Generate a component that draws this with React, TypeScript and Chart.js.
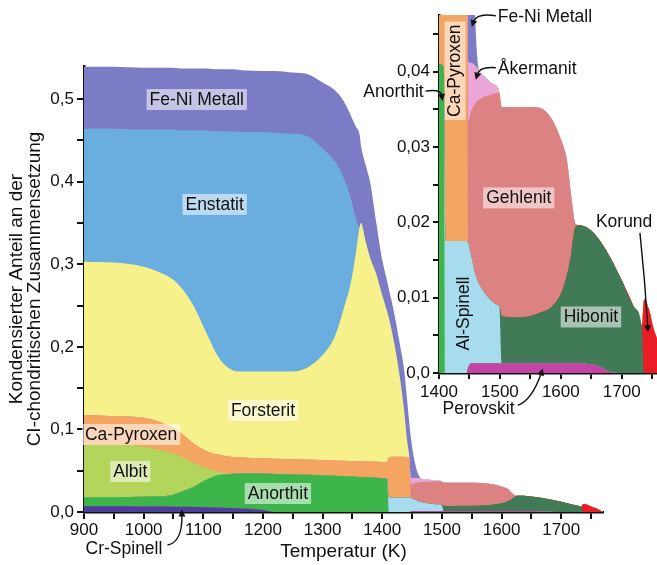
import React, { useEffect, useRef } from 'react';
import { Chart, registerables } from 'chart.js';

Chart.register(...registerables);

const FONT = '"Liberation Sans", Arial, Helvetica, sans-serif';

// Temperature grid (K)
const temperature = [
  900, 950, 1000, 1030, 1050, 1065, 1085, 1105, 1125, 1145,
  1165, 1200, 1220, 1250, 1275, 1300, 1320, 1335, 1348, 1356,
  1362, 1364, 1373, 1380, 1390, 1400, 1408, 1411, 1418, 1429,
  1437, 1441, 1445, 1448, 1453, 1460, 1466, 1475, 1485, 1497,
  1499, 1503, 1520, 1545, 1565, 1585, 1600, 1610, 1617, 1624,
  1630, 1645, 1660, 1680, 1700, 1720, 1733, 1737, 1745, 1752,
  1760, 1770,
];

// Condensed fraction of each phase (stacked, bottom to top)
const crSpinell = [
  0.007, 0.007, 0.0068, 0.0066, 0.0065, 0.0063, 0.006, 0.0057, 0.0053, 0.0048,
  0.0042, 0.0025, 0, 0, 0, 0, 0, 0, 0, 0,
  0, 0, 0, 0, 0, 0, 0, 0, 0, 0,
  0, 0, 0, 0, 0, 0, 0, 0, 0, 0,
  0, 0, 0, 0, 0, 0, 0, 0, 0, 0,
  0, 0, 0, 0, 0, 0, 0, 0, 0, 0,
  0, 0,
];
const perovskit = [
  0, 0, 0, 0, 0, 0, 0, 0, 0, 0,
  0, 0, 0, 0, 0, 0, 0, 0, 0, 0,
  0, 0, 0, 0, 0, 0, 0, 0, 0, 0,
  0, 0, 0, 0.0008, 0.0013, 0.0013, 0.0013, 0.0013, 0.0013, 0.0013,
  0.0013, 0.0013, 0.0013, 0.0013, 0.0013, 0.0013, 0.0013, 0.0013, 0.0013, 0.0013,
  0.0013, 0.0012, 0.001, 0.0002, 0, 0, 0, 0, 0, 0,
  0, 0,
];
const anorthit = [
  0.011, 0.011, 0.0117, 0.0124, 0.0145, 0.0187, 0.025, 0.0333, 0.0392, 0.0412,
  0.0423, 0.044, 0.046, 0.0455, 0.045, 0.0445, 0.044, 0.0435, 0.043, 0.0428,
  0.0425, 0.0425, 0.0423, 0.042, 0.0415, 0.041, 0.0405, 0, 0, 0,
  0, 0, 0, 0, 0, 0, 0, 0, 0, 0,
  0, 0, 0, 0, 0, 0, 0, 0, 0, 0,
  0, 0, 0, 0, 0, 0, 0, 0, 0, 0,
  0, 0,
];
const alSpinell = [
  0, 0, 0, 0, 0, 0, 0, 0, 0, 0,
  0, 0, 0, 0, 0, 0, 0, 0, 0, 0,
  0, 0, 0, 0, 0, 0, 0, 0.0175, 0.0175, 0.0175,
  0.0175, 0.0175, 0.0175, 0.0164, 0.0142, 0.0117, 0.0105, 0.0093, 0.0084, 0.0077,
  0.0077, 0, 0, 0, 0, 0, 0, 0, 0, 0,
  0, 0, 0, 0, 0, 0, 0, 0, 0, 0,
  0, 0,
];
const hibonit = [
  0, 0, 0, 0, 0, 0, 0, 0, 0, 0,
  0, 0, 0, 0, 0, 0, 0, 0, 0, 0,
  0, 0, 0, 0, 0, 0, 0, 0, 0, 0,
  0, 0, 0, 0, 0, 0, 0, 0, 0, 0,
  0, 0.0063, 0.0061, 0.0062, 0.0067, 0.0075, 0.0092, 0.0117, 0.0145, 0.0181,
  0.0183, 0.018, 0.017, 0.0153, 0.0123, 0.0088, 0.0063, 0, 0, 0,
  0, 0,
];
const korund = [
  0, 0, 0, 0, 0, 0, 0, 0, 0, 0,
  0, 0, 0, 0, 0, 0, 0, 0, 0, 0,
  0, 0, 0, 0, 0, 0, 0, 0, 0, 0,
  0, 0, 0, 0, 0, 0, 0, 0, 0, 0,
  0, 0, 0, 0, 0, 0, 0, 0, 0, 0,
  0, 0, 0, 0, 0, 0, 0, 0.0098, 0.0084, 0.006,
  0.004, 0,
];
const albit = [
  0.063, 0.063, 0.0605, 0.0555, 0.05, 0.041, 0.028, 0.014, 0.0045, 0,
  0, 0, 0, 0, 0, 0, 0, 0, 0, 0,
  0, 0, 0, 0, 0, 0, 0, 0, 0, 0,
  0, 0, 0, 0, 0, 0, 0, 0, 0, 0,
  0, 0, 0, 0, 0, 0, 0, 0, 0, 0,
  0, 0, 0, 0, 0, 0, 0, 0, 0, 0,
  0, 0,
];
const caPyroxen = [
  0.036, 0.035, 0.035, 0.0335, 0.03, 0.028, 0.023, 0.021, 0.0205, 0.021,
  0.0195, 0.0185, 0.0185, 0.0185, 0.0185, 0.0185, 0.0185, 0.0185, 0.0187, 0.0187,
  0.0188, 0.0187, 0.0188, 0.019, 0.0193, 0.0196, 0.02, 0.0485, 0.0495, 0.0495,
  0.0495, 0.049, 0.0485, 0, 0, 0, 0, 0, 0, 0,
  0, 0, 0, 0, 0, 0, 0, 0, 0, 0,
  0, 0, 0, 0, 0, 0, 0, 0, 0, 0,
  0, 0,
];
const gehlenit = [
  0, 0, 0, 0, 0, 0, 0, 0, 0, 0,
  0, 0, 0, 0, 0, 0, 0, 0, 0, 0,
  0, 0, 0, 0, 0, 0, 0, 0, 0, 0,
  0, 0, 0, 0.0163, 0.0193, 0.0228, 0.0245, 0.0261, 0.0272, 0.0282,
  0.0282, 0.0277, 0.0279, 0.0278, 0.0272, 0.0249, 0.0205, 0.0152, 0.0077, 0.0004,
  0, 0, 0, 0, 0, 0, 0, 0, 0, 0,
  0, 0,
];
const akermanit = [
  0, 0, 0, 0, 0, 0, 0, 0, 0, 0,
  0, 0, 0, 0, 0, 0, 0, 0, 0, 0,
  0, 0, 0, 0, 0, 0, 0, 0, 0, 0,
  0, 0, 0, 0.0078, 0.0063, 0.0049, 0.0038, 0.0026, 0.0016, 0.0006,
  0, 0, 0, 0, 0, 0, 0, 0, 0, 0,
  0, 0, 0, 0, 0, 0, 0, 0, 0, 0,
  0, 0,
];
const forsterit = [
  0.186, 0.186, 0.183, 0.181, 0.18, 0.176, 0.166, 0.143, 0.1185, 0.106,
  0.104, 0.105, 0.1055, 0.106, 0.1115, 0.127, 0.1495, 0.183, 0.2183, 0.2535,
  0.2837, 0.2888, 0.2639, 0.246, 0.2272, 0.2014, 0.1825, 0.169, 0.145, 0.098,
  0.053, 0.0235, 0.002, 0, 0, 0, 0, 0, 0, 0,
  0, 0, 0, 0, 0, 0, 0, 0, 0, 0,
  0, 0, 0, 0, 0, 0, 0, 0, 0, 0,
  0, 0,
];
const enstatit = [
  0.161, 0.162, 0.166, 0.174, 0.182, 0.192, 0.214, 0.245, 0.273, 0.288,
  0.29, 0.29, 0.289, 0.288, 0.28, 0.25, 0.213, 0.16, 0.098, 0.04,
  0, 0, 0, 0, 0, 0, 0, 0, 0, 0,
  0, 0, 0, 0, 0, 0, 0, 0, 0, 0,
  0, 0, 0, 0, 0, 0, 0, 0, 0, 0,
  0, 0, 0, 0, 0, 0, 0, 0, 0, 0,
  0, 0,
];
const feNiMetall = [
  0.075, 0.075, 0.075, 0.075, 0.075, 0.075, 0.075, 0.075, 0.075, 0.075,
  0.075, 0.074, 0.075, 0.074, 0.075, 0.08, 0.086, 0.093, 0.101, 0.111,
  0.112, 0.095, 0.093, 0.091, 0.062, 0.043, 0.037, 0.035, 0.036, 0.04,
  0.05, 0.05, 0.042, 0.0487, 0.0249, 0.0053, 0, 0, 0, 0,
  0, 0, 0, 0, 0, 0, 0, 0, 0, 0,
  0, 0, 0, 0, 0, 0, 0, 0, 0, 0,
  0, 0,
];

const phases: { name: string; values: number[]; color: string }[] = [
  { name: 'Cr-Spinell', values: crSpinell, color: '#4d3e9c' },
  { name: 'Perovskit', values: perovskit, color: '#c444a6' },
  { name: 'Anorthit', values: anorthit, color: '#3db54a' },
  { name: 'Al-Spinell', values: alSpinell, color: '#a7dbee' },
  { name: 'Hibonit', values: hibonit, color: '#417a56' },
  { name: 'Korund', values: korund, color: '#ec1c24' },
  { name: 'Albit', values: albit, color: '#b3d55c' },
  { name: 'Ca-Pyroxen', values: caPyroxen, color: '#f5a562' },
  { name: 'Gehlenit', values: gehlenit, color: '#dc8282' },
  { name: 'Åkermanit', values: akermanit, color: '#eaa6d6' },
  { name: 'Forsterit', values: forsterit, color: '#f7f18c' },
  { name: 'Enstatit', values: enstatit, color: '#6aaee0' },
  { name: 'Fe-Ni Metall', values: feNiMetall, color: '#7c7cc6' },
];

type Label = { text: string; t: number; v: number; align?: 'left' | 'center' | 'right'; rot?: boolean; box?: boolean };
type Arrow = { from: [number, number]; ctrl: [number, number]; to: [number, number] };

const mainLabels: Label[] = [
  { text: 'Fe-Ni Metall', t: 1089, v: 0.5, box: true },
  { text: 'Enstatit', t: 1119, v: 0.373, box: true },
  { text: 'Forsterit', t: 1200, v: 0.1236, box: true },
  { text: 'Ca-Pyroxen', t: 979, v: 0.0945, box: true },
  { text: 'Albit', t: 977.5, v: 0.0497, box: true },
  { text: 'Anorthit', t: 1225, v: 0.023, box: true },
  { text: 'Cr-Spinell', t: 967, v: -0.0436 },
];
const mainArrows: Arrow[] = [
  { from: [1040, -0.04], ctrl: [1065, -0.0364], to: [1064, 0.003] },
];

const insetLabels: Label[] = [
  { text: 'Ca-Pyroxen', t: 1425.6, v: 0.0401, rot: true, box: true },
  { text: 'Fe-Ni Metall', t: 1496.5, v: 0.0474, align: 'left' },
  { text: 'Åkermanit', t: 1496.5, v: 0.0405, align: 'left' },
  { text: 'Anorthit', t: 1374.8, v: 0.0374, align: 'right' },
  { text: 'Gehlenit', t: 1531, v: 0.0233, box: true },
  { text: 'Korund', t: 1704, v: 0.0201 },
  { text: 'Al-Spinell', t: 1439, v: 0.0079, rot: true },
  { text: 'Hibonit', t: 1649.5, v: 0.0075, box: true },
  { text: 'Perovskit', t: 1465, v: -0.0047 },
];
const insetArrows: Arrow[] = [
  { from: [1493.3, 0.0474], ctrl: [1461.7, 0.0478], to: [1453.8, 0.0459] },
  { from: [1493.3, 0.0405], ctrl: [1466.9, 0.0407], to: [1460.4, 0.0389] },
  { from: [1378, 0.0374], ctrl: [1402.8, 0.0377], to: [1406, 0.0361] },
  { from: [1730, 0.0186], ctrl: [1738.3, 0.0123], to: [1743.3, 0.0054] },
  { from: [1529.4, -0.0043], ctrl: [1552.5, -0.0036], to: [1570.6, 0.0006] },
];

function annotationPlugin(labels: Label[], arrows: Arrow[]) {
  return {
    id: 'phaseLabels',
    afterDraw(chart: any) {
      const { ctx } = chart;
      const xs = chart.scales.x;
      const ys = chart.scales.y;
      ctx.save();
      ctx.font = `17.5px ${FONT}`;
      ctx.textBaseline = 'middle';
      ctx.textAlign = 'left';
      for (const l of labels) {
        const px = xs.getPixelForValue(l.t);
        const py = ys.getPixelForValue(l.v);
        ctx.save();
        ctx.translate(px, py);
        if (l.rot) ctx.rotate(-Math.PI / 2);
        const w = ctx.measureText(l.text).width;
        const align = l.align || 'center';
        const x0 = align === 'center' ? -w / 2 : align === 'right' ? -w : 0;
        if (l.box) {
          ctx.fillStyle = 'rgba(255,255,255,0.55)';
          ctx.fillRect(x0 - 3, -10, w + 6, 21);
        }
        ctx.fillStyle = '#111';
        ctx.fillText(l.text, x0, 1);
        ctx.restore();
      }
      ctx.strokeStyle = '#111';
      ctx.fillStyle = '#111';
      ctx.lineWidth = 1.4;
      for (const a of arrows) {
        const [x0, y0] = [xs.getPixelForValue(a.from[0]), ys.getPixelForValue(a.from[1])];
        const [cx, cy] = [xs.getPixelForValue(a.ctrl[0]), ys.getPixelForValue(a.ctrl[1])];
        const [x1, y1] = [xs.getPixelForValue(a.to[0]), ys.getPixelForValue(a.to[1])];
        const ang = Math.atan2(y1 - cy, x1 - cx);
        const hl = 7;
        const bx = x1 - Math.cos(ang) * hl * 0.8;
        const by = y1 - Math.sin(ang) * hl * 0.8;
        ctx.beginPath();
        ctx.moveTo(x0, y0);
        ctx.quadraticCurveTo(cx, cy, bx, by);
        ctx.stroke();
        ctx.beginPath();
        ctx.moveTo(x1, y1);
        ctx.lineTo(x1 - Math.cos(ang) * hl + Math.sin(ang) * 3.5, y1 - Math.sin(ang) * hl - Math.cos(ang) * 3.5);
        ctx.lineTo(x1 - Math.cos(ang) * hl - Math.sin(ang) * 3.5, y1 - Math.sin(ang) * hl + Math.cos(ang) * 3.5);
        ctx.closePath();
        ctx.fill();
      }
      ctx.restore();
    },
  };
}

function buildDatasets() {
  return phases.map((p) => ({
    label: p.name,
    data: temperature.map((t, i) => ({ x: t, y: p.values[i] })),
    backgroundColor: p.color,
    borderColor: 'transparent',
    borderWidth: 0,
    pointRadius: 0,
    fill: 'origin',
    stack: 'phases',
    cubicInterpolationMode: 'monotone' as const,
  }));
}

const axisFont = { family: FONT, size: 17 };

export default function App() {
  const mainRef = useRef<HTMLCanvasElement>(null);
  const insetRef = useRef<HTMLCanvasElement>(null);

  useEffect(() => {
    const main = new Chart(mainRef.current as HTMLCanvasElement, {
      type: 'line',
      data: { datasets: buildDatasets() as any },
      options: {
        responsive: false,
        animation: false,
        devicePixelRatio: 1,
        layout: { padding: { top: 66, right: 54, left: 0, bottom: 0 } },
        plugins: { legend: { display: false }, tooltip: { enabled: false } },
        scales: {
          x: {
            type: 'linear',
            min: 900,
            max: 1770,
            afterFit: (s: any) => { s.height = 53; },
            border: { display: true, color: '#111', width: 2.5 },
            grid: { drawOnChartArea: false, drawTicks: true, tickLength: 7, color: '#111', lineWidth: 2 },
            ticks: {
              stepSize: 50,
              includeBounds: false,
              autoSkip: false,
              maxRotation: 0,
              padding: 1,
              color: '#111',
              font: axisFont,
              callback: (v: any) => (Number(v) % 100 === 0 ? String(v) : ''),
            },
            title: {
              display: true,
              text: 'Temperatur (K)',
              color: '#111',
              font: { family: FONT, size: 19, lineHeight: 1.2 },
              padding: { top: 0, bottom: 2 },
            },
          },
          y: {
            type: 'linear',
            stacked: true,
            min: 0,
            max: 0.54,
            afterFit: (s: any) => { s.width = 84; },
            border: { display: true, color: '#111', width: 2.5 },
            grid: { drawOnChartArea: false, drawTicks: true, tickLength: 7, color: '#111', lineWidth: 2 },
            ticks: {
              stepSize: 0.05,
              includeBounds: false,
              autoSkip: false,
              padding: 3,
              color: '#111',
              font: axisFont,
              callback: (v: any) => {
                const n = Math.round(Number(v) * 100);
                return n % 10 === 0 ? (n / 100).toFixed(1).replace('.', ',') : '';
              },
            },
            title: {
              display: true,
              text: ['Kondensierter Anteil an der', 'CI-chondritischen Zusammensetzung'],
              color: '#111',
              font: { family: FONT, size: 19, lineHeight: 0.95 },
              padding: { top: 8, bottom: 0 },
            },
          },
        },
      },
      plugins: [annotationPlugin(mainLabels, mainArrows)],
    } as any);

    const inset = new Chart(insetRef.current as HTMLCanvasElement, {
      type: 'line',
      data: { datasets: buildDatasets() as any },
      options: {
        responsive: false,
        animation: false,
        devicePixelRatio: 1,
        layout: { padding: { top: 15, right: 0, left: 0, bottom: 0 } },
        plugins: { legend: { display: false }, tooltip: { enabled: false } },
        scales: {
          x: {
            type: 'linear',
            min: 1400,
            max: 1758,
            afterFit: (s: any) => { s.height = 47; },
            border: { display: true, color: '#111', width: 2.5 },
            grid: { drawOnChartArea: false, drawTicks: true, tickLength: 6, color: '#111', lineWidth: 2 },
            ticks: {
              stepSize: 50,
              includeBounds: false,
              autoSkip: false,
              maxRotation: 0,
              padding: 3,
              color: '#111',
              font: axisFont,
              callback: (v: any) => (Number(v) % 100 === 0 ? String(v) : ''),
            },
          },
          y: {
            type: 'linear',
            stacked: true,
            min: 0,
            max: 0.0475,
            afterFit: (s: any) => { s.width = 99; },
            border: { display: true, color: '#111', width: 2.5 },
            grid: { drawOnChartArea: false, drawTicks: true, tickLength: 6, color: '#111', lineWidth: 2 },
            ticks: {
              stepSize: 0.005,
              includeBounds: false,
              autoSkip: false,
              padding: 3,
              color: '#111',
              font: axisFont,
              callback: (v: any) => {
                const n = Math.round(Number(v) * 1000);
                if (n % 10 !== 0) return '';
                return n === 0 ? '0,0' : (n / 1000).toFixed(2).replace('.', ',');
              },
            },
          },
        },
      },
      plugins: [annotationPlugin(insetLabels, insetArrows)],
    } as any);

    return () => {
      main.destroy();
      inset.destroy();
    };
  }, []);

  return (
    <div style={{ position: 'absolute', left: 0, top: 0, width: 657, height: 565, background: '#fff', overflow: 'hidden' }}>
      <canvas ref={mainRef} width={657} height={565} style={{ position: 'absolute', left: 0, top: 0 }} />
      <canvas ref={insetRef} width={317} height={420} style={{ position: 'absolute', left: 340, top: 0 }} />
    </div>
  );
}
